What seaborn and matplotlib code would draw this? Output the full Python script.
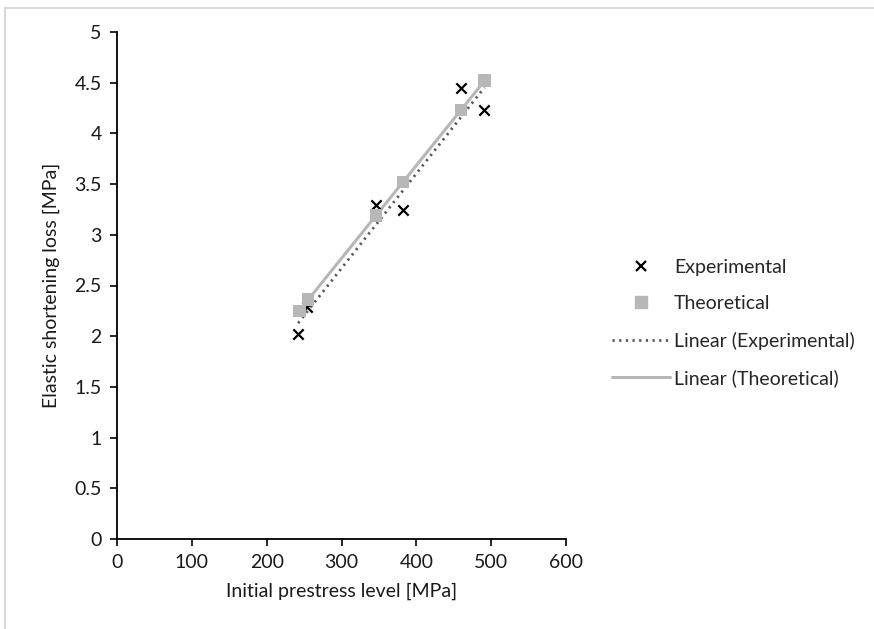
import numpy as np
import pandas as pd
import matplotlib
matplotlib.use("Agg")
import matplotlib.pyplot as plt
from matplotlib.lines import Line2D
from matplotlib.patches import Rectangle
import seaborn as sns

# Data
exp_x = [242, 254, 346, 382, 460, 491]
exp_y = [2.02, 2.29, 3.29, 3.24, 4.45, 4.23]
theo_x = [244, 255, 346, 382, 460, 491]
theo_y = [2.25, 2.36, 3.19, 3.52, 4.23, 4.52]
x_ticks = [0, 100, 200, 300, 400, 500, 600]
y_ticks = [0, 0.5, 1, 1.5, 2, 2.5, 3, 3.5, 4, 4.5, 5]
y_tick_labels = ["0", "0.5", "1", "1.5", "2", "2.5", "3", "3.5", "4", "4.5", "5"]

sns.set_style("white")
plt.rcParams['font.family'] = ['Lato', 'DejaVu Sans']

exp_df = pd.DataFrame({"x": exp_x, "y": exp_y})
theo_df = pd.DataFrame({"x": theo_x, "y": theo_y})

fig = plt.figure(figsize=(8.74, 6.29), dpi=100)
ax = fig.add_axes([117 / 874, 1 - 539 / 629, (566 - 117) / 874, (539 - 32) / 629])

grey_light = "#b7b7b7"
grey_dark = "#595959"
dots = (0, (0.8, 1.6))

# trendlines
sns.regplot(data=theo_df, x="x", y="y", ax=ax, scatter=False, ci=None, truncate=True,
            line_kws=dict(color=grey_light, lw=2.2, solid_capstyle="butt", zorder=2))
sns.regplot(data=exp_df, x="x", y="y", ax=ax, scatter=False, ci=None, truncate=True,
            line_kws=dict(color=grey_dark, lw=2.0, linestyle=dots, zorder=3))

# markers
sns.scatterplot(data=exp_df, x="x", y="y", ax=ax, marker="x", s=55, color="black",
                linewidth=1.6, zorder=4)
sns.scatterplot(data=theo_df, x="x", y="y", ax=ax, marker="s", s=80, color=grey_light,
                edgecolor="none", zorder=5)

ax.set_xlim(0, 600)
ax.set_ylim(0, 5)
ax.set_xticks(x_ticks)
ax.set_yticks(y_ticks)
ax.set_yticklabels(y_tick_labels)
ax.tick_params(axis="both", direction="out", length=5, width=1.2, color="black",
               labelsize=14, labelcolor="#1a1a1a", pad=6, left=True, bottom=True)
for s in ["top", "right"]:
    ax.spines[s].set_visible(False)
for s in ["left", "bottom"]:
    ax.spines[s].set_color("black")
    ax.spines[s].set_linewidth(1.3)

ax.set_xlabel("Initial prestress level [MPa]", fontsize=14, color="#1a1a1a", labelpad=8)
ax.set_ylabel("Elastic shortening loss [MPa]", fontsize=14, color="#1a1a1a", labelpad=10)

handles = [
    Line2D([], [], linestyle="none", marker="x", color="black", markersize=7, markeredgewidth=1.6),
    Line2D([], [], linestyle="none", marker="s", color=grey_light, markersize=8),
    Line2D([], [], color=grey_dark, lw=2.0, linestyle=dots),
    Line2D([], [], color=grey_light, lw=2.2),
]
labels = ["Experimental", "Theoretical", "Linear (Experimental)", "Linear (Theoretical)"]
fig.legend(handles, labels, loc="center left", bbox_to_anchor=(604 / 874, 1 - 323 / 629),
           frameon=False, fontsize=14, handlelength=3.0, handletextpad=0.2,
           labelspacing=1.0, borderaxespad=0)

# chart border (Excel-like frame)
fig.patches.append(Rectangle((5 / 874, -0.1), 1.2, 1 - 8 / 629 + 0.1, transform=fig.transFigure,
                             fill=False, edgecolor="#d9d9d9", lw=1.5))

fig.savefig("out.png", dpi=100)
